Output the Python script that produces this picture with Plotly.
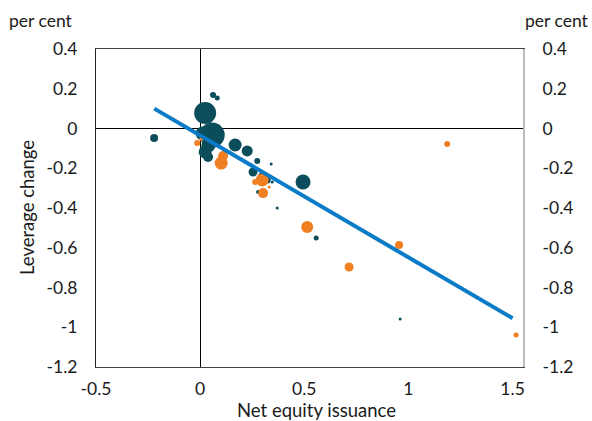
import plotly.graph_objects as go

# Dark teal series
teal_x = [-0.221, 0.062, 0.082, 0.024, 0.058, 0.024, 0.038, 0.168, 0.226, 0.274, 0.341,
          0.254, 0.298, 0.322, 0.346, 0.278, 0.494, 0.370, 0.557, 0.960, 0.012, 0.040]
teal_y = [-0.048, 0.169, 0.153, 0.078, -0.033, -0.118, -0.143, -0.083, -0.113, -0.164, -0.179,
          -0.219, -0.244, -0.259, -0.269, -0.319, -0.269, -0.400, -0.551, -0.958, -0.025, -0.085]
teal_size = [8, 6, 5, 22, 25, 13, 10, 13, 11, 6, 3,
             9, 9, 7, 3, 4, 15, 3, 5, 3, 14, 14]

# Orange series
orange_x = [-0.014, 0.005, 0.110, 0.101, 0.298, 0.264, 0.302, 0.331, 0.514, 0.715, 0.955, 1.186, 1.517]
orange_y = [-0.073, -0.053, -0.138, -0.174, -0.259, -0.269, -0.325, -0.294, -0.496, -0.697, -0.586, -0.078, -1.039]
orange_size = [6, 4, 10, 13, 13, 6, 10, 3, 12, 9, 8, 6, 5]

# Fitted line
fit_x = [-0.22, 1.5]
fit_y = [0.10, -0.955]

y_ticks = [0.4, 0.2, 0, -0.2, -0.4, -0.6, -0.8, -1, -1.2]
y_ticktext = ["0.4", "0.2", "0", "-0.2", "-0.4", "-0.6", "-0.8", "-1", "-1.2"]
x_ticks = [-0.5, 0, 0.5, 1, 1.5]
x_ticktext = ["-0.5", "0", "0.5", "1", "1.5"]

TEAL = "#0b4d5b"
ORANGE = "#f07f22"
BLUE = "#0a7bc6"
FONT = dict(family="Lato", size=17.5, color="#1a1a1a")
TFONT = dict(family="Lato", size=18.5, color="#1a1a1a")

fig = go.Figure()
fig.add_trace(go.Scatter(x=teal_x, y=teal_y, mode="markers",
                         marker=dict(size=teal_size, sizemode="diameter", color=TEAL,
                                     opacity=1, line=dict(width=0)), showlegend=False))
fig.add_trace(go.Scatter(x=orange_x, y=orange_y, mode="markers",
                         marker=dict(size=orange_size, sizemode="diameter", color=ORANGE,
                                     opacity=1, line=dict(width=0)), showlegend=False))
fig.add_trace(go.Scatter(x=fit_x, y=fit_y, mode="lines",
                         line=dict(color=BLUE, width=4), showlegend=False))
# invisible trace for right axis
fig.add_trace(go.Scatter(x=[None], y=[None], yaxis="y2", showlegend=False))

fig.update_layout(
    width=592, height=421,
    margin=dict(l=96, r=69, t=49, b=54),
    paper_bgcolor="white", plot_bgcolor="white",
    font=FONT,
    xaxis=dict(range=[-0.5, 1.55], tickvals=x_ticks, ticktext=x_ticktext,
               showgrid=False, zeroline=True, zerolinecolor="black", zerolinewidth=1,
               showline=True, linecolor="#444", linewidth=1, mirror=True,
               ticks="", ticklabelstandoff=6, tickfont=FONT),
    yaxis=dict(range=[-1.2, 0.4], tickvals=y_ticks, ticktext=y_ticktext,
               showgrid=False, zeroline=True, zerolinecolor="black", zerolinewidth=1,
               showline=True, linecolor="#222", linewidth=1,
               ticks="", ticklabelstandoff=14, tickfont=FONT),
    yaxis2=dict(range=[-1.2, 0.4], tickvals=y_ticks, ticktext=y_ticktext,
                overlaying="y", side="right", showgrid=False, zeroline=False,
                showline=True, linecolor="#bbbbbb", linewidth=2,
                ticks="", ticklabelstandoff=14, tickfont=FONT),
    annotations=[
        dict(text="per cent", xref="paper", yref="paper", x=0, y=1, xshift=-55, yshift=29,
             showarrow=False, font=FONT, xanchor="center", yanchor="middle"),
        dict(text="per cent", xref="paper", yref="paper", x=1, y=1, xshift=34, yshift=29,
             showarrow=False, font=FONT, xanchor="center", yanchor="middle"),
        dict(text="Leverage change", xref="paper", yref="paper", x=0, y=0.5, xshift=-69,
             textangle=-90, showarrow=False, font=TFONT, xanchor="center", yanchor="middle"),
        dict(text="Net equity issuance", xref="paper", yref="paper", x=0.517, y=0, yshift=-43,
             showarrow=False, font=TFONT, xanchor="center", yanchor="middle"),
    ],
)

fig.write_html("out.html", config={"displayModeBar": False},
               post_script="document.body.style.margin='0';document.body.style.overflow='hidden';")
